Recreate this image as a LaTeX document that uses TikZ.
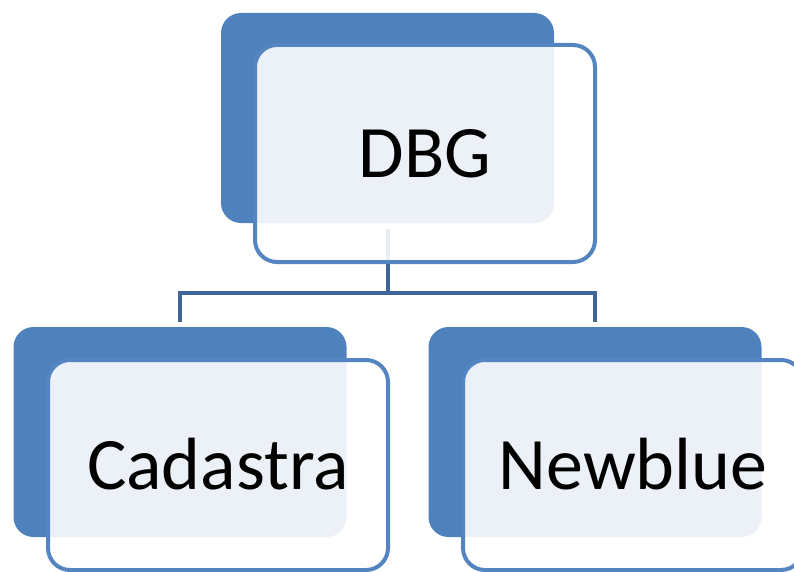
\documentclass[tikz,border=0pt]{standalone}
\usepackage{fontspec}
\setmainfont{Carlito}
\usetikzlibrary{calc}
\definecolor{darkbox}{HTML}{4F81BD}
\definecolor{edgeblue}{HTML}{5585C0}
\definecolor{connblue}{HTML}{3F6696}
\tikzset{
  backbox/.style={draw=none, fill=darkbox, rounded corners=20pt, minimum width=333pt, minimum height=210pt, inner sep=0pt},
  frontbox/.style={draw=edgeblue, line width=4pt, fill=white, fill opacity=0.89, text opacity=1, rounded corners=22pt, minimum width=340pt, inner sep=0pt,
     font=\fontsize{74}{80}\selectfont, text height=48pt, text depth=0pt},
  conn/.style={draw=connblue, line width=4pt, line join=miter}
}
\begin{document}
\begin{tikzpicture}[x=1pt,y=-1pt]
\useasboundingbox (0,0) rectangle (794,572);
\clip (0,0) rectangle (794,572);
% back boxes
\node[backbox] (dbgback) at (387.5,118) {};
\node[backbox] (cadback) at (180,432) {};
\node[backbox] (newback) at (595,432) {};
% connectors
\coordinate (mid) at (387.5,293);
\draw[conn] ([yshift=-6pt]dbgback.south) -- (mid);
\draw[conn] ([yshift=5pt]cadback.north) |- (mid) -| ([yshift=5pt]newback.north);
% front boxes
\node[frontbox, minimum height=217pt] (dbg) at (425,153.5) {DBG};
\node[frontbox, minimum height=210pt] (cad) at (218,465) {Cadastra};
\node[frontbox, minimum height=210pt] (new) at (633,465) {Newblue};
\end{tikzpicture}
\end{document}
